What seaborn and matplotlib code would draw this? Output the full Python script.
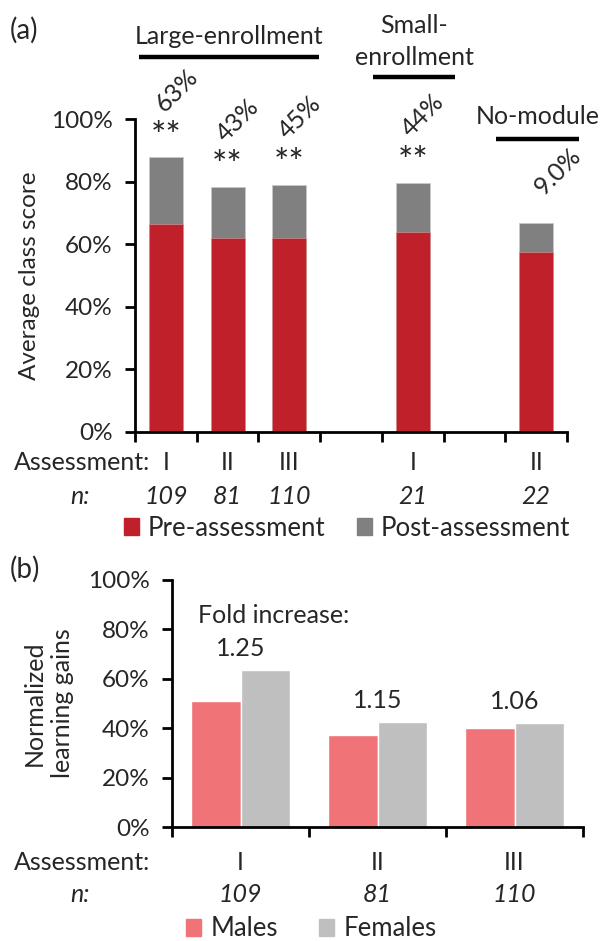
import numpy as np
import pandas as pd
import matplotlib
matplotlib.use("Agg")
import matplotlib.pyplot as plt
import matplotlib.transforms as mtransforms
from matplotlib.patches import Patch
import seaborn as sns

# ---------------- data: panel (a)
assess_a = ["I", "II", "III", "I", "II"]
n_a = ["109", "81", "110", "21", "22"]
group_a = ["Large-enrollment", "Large-enrollment", "Large-enrollment",
           "Small-enrollment", "No-module"]
group_titles = {"Large-enrollment": "Large-enrollment",
                "Small-enrollment": "Small-\nenrollment",
                "No-module": "No-module"}
pre_a = [66.5, 62.1, 62.1, 64.0, 57.6]
post_a = [87.7, 78.2, 78.9, 79.6, 66.9]
gain_a = ["63%", "43%", "45%", "44%", "9.0%"]
sig_a = ["**", "**", "**", "**", ""]
series_a = ["Pre-assessment", "Post-assessment"]

# ---------------- data: panel (b)
assess_b = ["I", "II", "III"]
n_b = ["109", "81", "110"]
males_b = [51.1, 37.2, 39.9]
females_b = [63.5, 42.6, 42.2]
fold_b = ["1.25", "1.15", "1.06"]
series_b = ["Males", "Females"]

RED = "#C0202A"
GRAY = "#808080"
PINK = "#F07378"
LGRAY = "#BFBFBF"
FS = 17.5      # tick labels / axis labels
FT = 18        # other texts

sns.set_style("ticks")
plt.rcParams["font.family"] = ["Lato", "DejaVu Sans"]
plt.rcParams["font.size"] = FS

fig = plt.figure(figsize=(6.05, 9.41), dpi=100)
W, H = 605.0, 941.0


def fx(px):
    return px / W


def fy(py):
    return 1 - py / H


def style_axis(ax):
    for s in ["top", "right"]:
        ax.spines[s].set_visible(False)
    for s in ["left", "bottom"]:
        ax.spines[s].set_linewidth(2)
        ax.spines[s].set_color("black")
    ax.tick_params(axis="both", direction="out", length=7, width=2,
                   color="black", labelsize=FS, pad=9)
    ax.set_yticks(np.arange(0, 101, 20))
    ax.set_yticklabels([f"{v}%" for v in range(0, 101, 20)])
    ax.set_ylim(0, 100)
    ax.set_xlabel("")


# ================= panel (a)
axA = fig.add_axes([fx(135), fy(432), fx(567) - fx(135), fy(119) - fy(432)])

slots = []
pos = 0
prev = None
for g in group_a:
    if prev is not None and g != prev:
        pos += 1
    slots.append(pos)
    pos += 1
    prev = g
nslots = pos

df_a = pd.DataFrame({"slot": slots, "pre": pre_a, "post": post_a})
sns.barplot(data=df_a, x="slot", y="post", native_scale=True, color=GRAY,
            width=0.55, saturation=1, errorbar=None, ax=axA,
            edgecolor="#c8c8c8", linewidth=0.6)
sns.barplot(data=df_a, x="slot", y="pre", native_scale=True, color=RED,
            width=0.55, saturation=1, errorbar=None, ax=axA,
            edgecolor="#d8a0a0", linewidth=0.4)
style_axis(axA)
axA.set_xlim(-0.5, nslots - 0.5)
axA.set_xticks(np.arange(-0.5, nslots, 1.0))
axA.set_xticklabels([])
axA.set_ylabel("Average class score", fontsize=FS, labelpad=8)

# annotations
for s, top, sig, g in zip(slots, post_a, sig_a, gain_a):
    if sig:
        axA.text(s, top + 6.5, sig, ha="center", va="center", fontsize=26,
                 clip_on=False)
        axA.text(s + 0.17, top + 21.5, g, ha="center", va="center",
                 fontsize=FT, rotation=45, clip_on=False)
    else:
        axA.text(s + 0.35, top + 16.5, g, ha="center", va="center",
                 fontsize=FT, rotation=45, clip_on=False)

# group headers
uniq = []
for g in group_a:
    if g not in uniq:
        uniq.append(g)
header_y = {"Large-enrollment": (126.5, 119.8),
            "Small-enrollment": (124.8, 113.4),
            "No-module": (100.8, 93.6)}
for g in uniq:
    ss = [s for s, gg in zip(slots, group_a) if gg == g]
    c = (min(ss) + max(ss)) / 2 + 0.02
    half = (max(ss) - min(ss)) / 2 + (0.46 if len(ss) > 1 else 0.67)
    ty, ly = header_y[g]
    axA.text(c, ty, group_titles[g], ha="center", va="center", fontsize=FT,
             linespacing=1.45, clip_on=False)
    axA.plot([c - half, c + half], [ly, ly], color="black", lw=3.2,
             solid_capstyle="butt", clip_on=False)

# labels under axis
trA = mtransforms.blended_transform_factory(axA.transData, fig.transFigure)
fig.text(fx(150), fy(462), "Assessment:", ha="right", va="center", fontsize=FT)
fig.text(fx(90), fy(497), "n:", ha="right", va="center", fontsize=FT,
         style="italic")
for s, a, n in zip(slots, assess_a, n_a):
    axA.text(s, fy(462), a, transform=trA, ha="center", va="center",
             fontsize=FT)
    axA.text(s, fy(497), n, transform=trA, ha="center", va="center",
             fontsize=FT, style="italic")

handles_a = [Patch(color=RED), Patch(color=GRAY)]
fig.legend(handles_a, series_a, loc="center", bbox_to_anchor=(fx(347), fy(528)),
           ncol=2, frameon=False, fontsize=FT + 0.5, handlelength=0.6,
           handleheight=0.6, handletextpad=0.35, columnspacing=1.2)

fig.text(fx(10), fy(30), "(a)", ha="left", va="center", fontsize=20)

# ================= panel (b)
axB = fig.add_axes([fx(172), fy(827), fx(583) - fx(172), fy(580) - fy(827)])
df_b = pd.DataFrame({
    "assessment": assess_b * 2,
    "gain": males_b + females_b,
    "sex": [series_b[0]] * len(assess_b) + [series_b[1]] * len(assess_b),
})
sns.barplot(data=df_b, x="assessment", y="gain", hue="sex", order=assess_b,
            hue_order=series_b, palette=[PINK, LGRAY], width=0.72, gap=0,
            saturation=1, errorbar=None, ax=axB, legend=False)
style_axis(axB)
axB.set_xlim(-0.5, len(assess_b) - 0.5)
axB.set_xticks(np.arange(-0.5, len(assess_b), 1.0))
axB.set_xticklabels([])
axB.set_ylabel("Normalized\nlearning gains", fontsize=FS + 0.5, labelpad=10,
               linespacing=1.3)

for i, (m, f, lab) in enumerate(zip(males_b, females_b, fold_b)):
    axB.text(i, max(m, f) + 8.8, lab, ha="center", va="center", fontsize=FT)
axB.text(-0.31, 85.8, "Fold increase:", ha="left", va="center", fontsize=FT)

trB = mtransforms.blended_transform_factory(axB.transData, fig.transFigure)
fig.text(fx(150), fy(862), "Assessment:", ha="right", va="center", fontsize=FT)
fig.text(fx(90), fy(895), "n:", ha="right", va="center", fontsize=FT,
         style="italic")
for i, (a, n) in enumerate(zip(assess_b, n_b)):
    axB.text(i, fy(862), a, transform=trB, ha="center", va="center",
             fontsize=FT)
    axB.text(i, fy(895), n, transform=trB, ha="center", va="center",
             fontsize=FT, style="italic")

handles_b = [Patch(color=PINK), Patch(color=LGRAY)]
fig.legend(handles_b, series_b, loc="center", bbox_to_anchor=(fx(311), fy(929)),
           ncol=2, frameon=False, fontsize=FT + 0.5, handlelength=0.6,
           handleheight=0.6, handletextpad=0.35, columnspacing=1.6)

fig.text(fx(10), fy(569), "(b)", ha="left", va="center", fontsize=20)

fig.savefig("out.png", dpi=100)
